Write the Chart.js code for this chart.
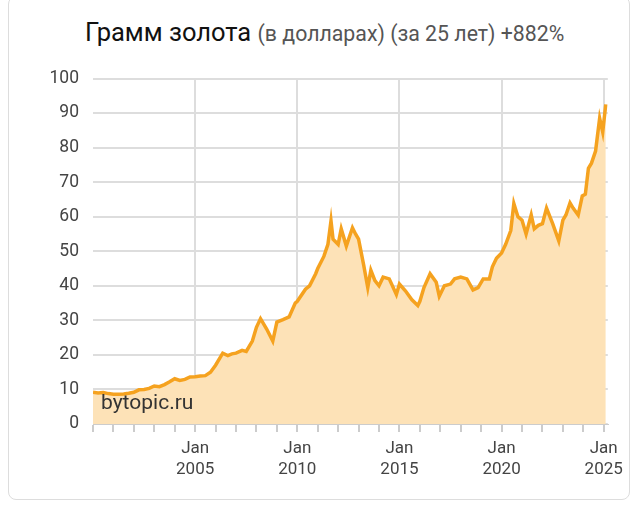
<!DOCTYPE html>
<html><head><meta charset="utf-8">
<script src="https://cdn.jsdelivr.net/npm/chart.js@4"></script>
<style>
  body { margin:0; background:#fff; font-family:Roboto, sans-serif; }
  .card { position:absolute; left:8px; top:-4px; width:620px; height:502px; border:1px solid #ddd; border-radius:8px; }
  .title { position:absolute; left:85px; top:17px; font-size:25.5px; color:#111; white-space:nowrap; }
  .title span { font-size:21.3px; color:#555; }
  .wm { position:absolute; left:101px; top:390px; font-size:21px; color:#333; }
  .wrap { position:absolute; left:18px; top:54px; width:612px; height:436px; }
</style></head>
<body>
<div class="card"></div>
<div class="title">Грамм золота <span>(в долларах) (за 25 лет) +882%</span></div>
<div class="wrap"><canvas id="c"></canvas></div>
<div class="wm">bytopic.ru</div>
<script>
// dates as fractional years, values in USD per gram
const dates = [2000.0,2000.25,2000.5,2000.75,2001.0,2001.25,2001.5,2001.75,2002.0,2002.25,2002.5,2002.75,
  2003.0,2003.25,2003.5,2003.75,2004.0,2004.25,2004.5,2004.75,2005.0,2005.25,2005.5,2005.75,
  2006.0,2006.35,2006.6,2006.8,2007.0,2007.3,2007.5,2007.8,2008.0,2008.2,2008.5,2008.8,
  2009.0,2009.3,2009.6,2009.9,2010.0,2010.4,2010.6,2010.9,2011.0,2011.3,2011.5,2011.65,2011.75,
  2012.0,2012.15,2012.4,2012.7,2012.85,2013.0,2013.25,2013.45,2013.6,2013.8,2014.0,2014.2,2014.5,2014.85,
  2015.0,2015.3,2015.6,2015.9,2016.0,2016.2,2016.5,2016.8,2016.95,2017.2,2017.5,2017.7,2018.0,2018.3,2018.6,2018.85,
  2019.1,2019.4,2019.55,2019.75,2020.0,2020.2,2020.45,2020.6,2020.8,2021.0,2021.2,2021.45,2021.6,2021.8,
  2022.0,2022.2,2022.5,2022.8,2023.0,2023.15,2023.35,2023.5,2023.75,2023.95,2024.1,2024.25,2024.4,2024.6,2024.8,2024.95,2025.1];
const values = [9.2,9.0,9.1,8.8,8.6,8.6,8.7,8.9,9.2,9.9,10.0,10.3,
  11.0,10.8,11.4,12.2,13.1,12.6,12.9,13.6,13.7,13.9,14.0,15.0,
  17.0,20.5,19.8,20.3,20.5,21.3,21.0,24.0,28.0,30.5,27.5,24.0,
  29.5,30.2,31.0,35.0,35.5,39.0,40.0,43.5,45.0,48.5,52.0,58.8,53.5,
  52.0,56.5,51.5,56.8,55.0,53.5,46.0,39.5,44.5,41.5,40.0,42.5,42.0,37.5,
  40.5,38.5,36.0,34.3,35.5,39.5,43.5,41.0,37.0,40.0,40.5,42.0,42.5,42.0,38.8,39.5,
  42.0,42.0,45.5,48.0,49.5,52.0,56.0,63.8,60.0,59.0,55.0,60.5,56.5,57.5,
  58.0,62.5,58.0,53.0,59.0,60.5,64.0,62.5,60.5,66.0,66.5,74.0,75.5,79.0,88.5,84.5,92.5];
const yTicks = [0,10,20,30,40,50,60,70,80,90,100];
const xLabelYears = [2005,2010,2015,2020,2025];

new Chart(document.getElementById("c"), {
  type: "line",
  data: { datasets: [{
    data: dates.map((d, i) => ({ x: d, y: values[i] })),
    borderColor: "#f5a21f", borderWidth: 3.5, backgroundColor: "#fde2b7",
    fill: "origin", pointRadius: 0, tension: 0
  }]},
  options: {
    animation: false, responsive: true, maintainAspectRatio: false,
    layout: { padding: { right: 20, top: 1 } },
    plugins: { legend: { display: false }, tooltip: { enabled: false } },
    scales: {
      x: {
        type: "linear", min: 2000, max: 2025.2,
        afterFit: ax => { ax.height = 66; },
        afterBuildTicks: ax => { ax.ticks = []; for (let y = 2000; y <= 2025; y++) ax.ticks.push({ value: y }); },
        ticks: { autoSkip: false, maxRotation: 0, color: "#444", font: { size: 17, family: "Roboto" }, padding: 7,
          callback: v => xLabelYears.includes(v) ? ["Jan", String(v)] : "" },
        grid: { color: c => (c.tick && xLabelYears.includes(c.tick.value)) ? "#ddd" : "rgba(0,0,0,0)",
          tickColor: "#ccc", tickLength: 8, lineWidth: 2 },
        border: { color: "#ccc" }
      },
      y: {
        min: 0, max: 100,
        afterFit: ax => { ax.width = 75; },
        afterBuildTicks: ax => { ax.ticks = yTicks.map(v => ({ value: v })); },
        ticks: { color: "#444", font: { size: 17.5, family: "Roboto" }, padding: 14 },
        grid: { color: "#ddd", lineWidth: 2, drawTicks: false },
        border: { display: false }
      }
    }
  }
});
</script>
</body></html>
